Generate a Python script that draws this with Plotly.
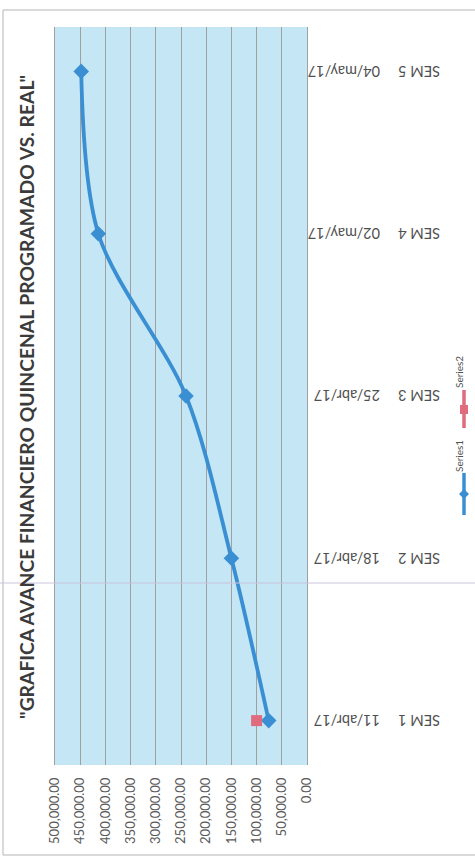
import plotly.graph_objects as go

# ---- data ----
semanas = ["SEM 1", "SEM 2", "SEM 3", "SEM 4", "SEM 5"]
fechas = ["11/abr/17", "18/abr/17", "25/abr/17", "02/may/17", "04/may/17"]
series1 = [76000, 150000, 240000, 414000, 448000]
series2 = [100000, None, None, None, None]
value_ticks = [0, 50000, 100000, 150000, 200000, 250000, 300000, 350000, 400000, 450000, 500000]
title_text = '"GRAFICA AVANCE FINANCIERO QUINCENAL PROGRAMADO VS. REAL"'
legend_names = ["Series1", "Series2"]

W, H = 475, 867
L, R, T, B = 55, 168, 27, 102
PW, PH = W - L - R, H - T - B

def px(xp):
    return (xp - L) / PW

def py(yp):
    return (H - B - yp) / PH

BLUE = "#3a8fd3"
PINK = "#e06a7e"
LABEL = "#505050"

fig = go.Figure()
fig.add_trace(go.Scatter(
    x=series1, y=semanas, mode="lines+markers", name=legend_names[0],
    line=dict(color=BLUE, width=3.8, shape="spline", smoothing=0.9),
    marker=dict(symbol="diamond", size=12, color=BLUE),
))
fig.add_trace(go.Scatter(
    x=series2, y=semanas, mode="markers", name=legend_names[1],
    marker=dict(symbol="square", size=11, color=PINK),
))

fig.update_layout(
    width=W, height=H,
    margin=dict(l=L, r=R, t=T, b=B, autoexpand=False),
    paper_bgcolor="white",
    plot_bgcolor="#c4e6f5",
    showlegend=False,
    font=dict(family="Lato", color="#595959"),
)
fig.update_xaxes(
    range=[500000, 0], tickvals=value_ticks, tickformat=",.2f",
    tickangle=-90, tickfont=dict(size=13, color="#595959"), ticklabelstandoff=9,
    showgrid=True, gridcolor="#a0a0a0", gridwidth=1,
    zeroline=False, showline=False, ticks="",
)
fig.update_yaxes(
    side="right", type="category", categoryorder="array", categoryarray=semanas,
    showticklabels=False,
    showgrid=False, zeroline=False, showline=True, mirror=True,
    linecolor="#a0a0a0", linewidth=1, ticks="",
)

# category labels (upside-down, as in the reference)
for s, f in zip(semanas, fechas):
    fig.add_annotation(x=px(442), y=s, xref="paper", yref="y", text=s, textangle=180,
                       showarrow=False, xanchor="right", yanchor="middle",
                       font=dict(size=14.5, color=LABEL))
    fig.add_annotation(x=px(382), y=s, xref="paper", yref="y", text=f, textangle=180,
                       showarrow=False, xanchor="right", yanchor="middle",
                       font=dict(size=14.5, color=LABEL))

# title (rotated)
fig.add_annotation(
    x=px(27), y=py(397), xref="paper", yref="paper", text="<b>" + title_text + "</b>",
    textangle=-90, showarrow=False, font=dict(family="Lato", size=19.3, color="#3b3b3b"),
    xanchor="center", yanchor="middle",
)

# legend (rotated)
fig.add_annotation(x=px(467), y=py(372), xref="paper", yref="paper", text=legend_names[1],
                   textangle=-90, showarrow=False, font=dict(size=10, color=LABEL))
fig.add_annotation(x=px(467), y=py(456), xref="paper", yref="paper", text=legend_names[0],
                   textangle=-90, showarrow=False, font=dict(size=10, color=LABEL))

shapes = []
# Series2 legend symbol
shapes.append(dict(type="line", xref="paper", yref="paper", x0=px(464), x1=px(464),
                   y0=py(390), y1=py(428), line=dict(color=PINK, width=3.5)))
shapes.append(dict(type="rect", xref="paper", yref="paper", x0=px(460), x1=px(468),
                   y0=py(405), y1=py(414), fillcolor=PINK, line=dict(width=0)))
# Series1 legend symbol
shapes.append(dict(type="line", xref="paper", yref="paper", x0=px(464), x1=px(464),
                   y0=py(473), y1=py(515), line=dict(color=BLUE, width=3.5)))
shapes.append(dict(type="path", xref="paper", yref="paper",
                   path=f"M {px(464)} {py(489)} L {px(469)} {py(494)} L {px(464)} {py(499)} L {px(459)} {py(494)} Z",
                   fillcolor=BLUE, line=dict(width=0)))
# chart border
shapes.append(dict(type="rect", xref="paper", yref="paper", x0=px(3), x1=px(485),
                   y0=py(855), y1=py(10), line=dict(color="#b5b5b5", width=1)))
# fold line from the scan
shapes.append(dict(type="line", xref="paper", yref="paper", x0=px(0), x1=px(475),
                   y0=py(583), y1=py(583), line=dict(color="#cbc4dd", width=1)))
fig.update_layout(shapes=shapes)

fig.write_html("out.html", config={"displayModeBar": False},
               post_script="document.body.style.margin='0px';document.body.style.overflow='hidden';")
